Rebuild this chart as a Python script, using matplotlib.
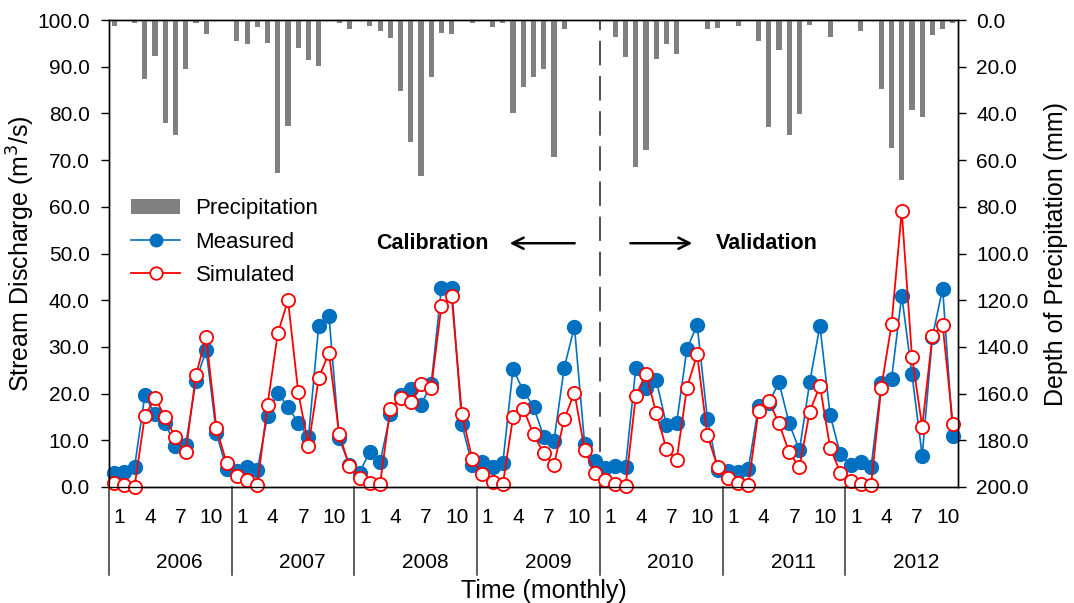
import numpy as np
import matplotlib
matplotlib.use('Agg')
import matplotlib.pyplot as plt
import matplotlib.transforms as mtransforms
from matplotlib.ticker import FormatStrFormatter
from matplotlib.lines import Line2D
from matplotlib.patches import Patch

plt.rcParams['font.family'] = ['Liberation Sans', 'DejaVu Sans']

# monthly series, Jan 2006 .. Nov 2012
years = ['2006', '2007', '2008', '2009', '2010', '2011', '2012']
month_labels = ['1', '4', '7', '10']

precip = [2.6, 0, 1.4, 25.2, 15.4, 44.2, 49.1, 20.9, 1.4, 6.0, 0, 0,
          9.1, 10.3, 2.8, 9.7, 65.5, 45.3, 12.1, 17.1, 19.7, 0, 1.4, 4.0,
          0, 2.6, 4.6, 7.8, 30.3, 52.4, 66.7, 24.2, 5.4, 6.0, 0.6, 1.4,
          0.6, 2.8, 1.4, 39.9, 28.5, 24.2, 20.9, 58.7, 4.0, 0, 0.6, 0,
          0.6, 7.1, 15.9, 63.1, 55.6, 16.7, 10.3, 14.7, 0.6, 0.6, 4.0, 3.4,
          0, 2.6, 0.6, 9.1, 46.0, 12.8, 49.1, 40.3, 2.1, 0.6, 7.1, 0,
          0, 4.6, 0, 29.6, 55.0, 68.5, 38.5, 41.7, 6.4, 4.0, 1.4]

measured = [3.1, 3.2, 4.3, 19.6, 15.6, 13.6, 8.8, 9.1, 22.7, 29.3, 11.5, 3.8,
            3.5, 4.3, 3.6, 15.3, 20.2, 17.1, 13.8, 10.6, 34.5, 36.7, 10.4, 4.7,
            3.1, 7.6, 5.3, 15.6, 19.6, 21.0, 17.6, 22.0, 42.7, 42.7, 13.4, 4.7,
            5.3, 4.3, 5.1, 25.3, 20.6, 17.2, 10.8, 9.9, 25.5, 34.3, 9.2, 5.6,
            4.0, 4.5, 4.3, 25.5, 21.3, 22.9, 13.3, 13.8, 29.6, 34.7, 14.6, 3.6,
            3.4, 3.3, 3.9, 17.3, 18.0, 22.4, 13.6, 7.9, 22.4, 34.5, 15.4, 7.0,
            4.7, 5.4, 4.2, 22.2, 23.1, 41.0, 24.1, 6.7, 32.2, 42.5, 10.9]

simulated = [0.9, 0.4, 0.1, 15.2, 19.1, 14.9, 10.6, 7.4, 24.0, 32.1, 12.6, 5.1,
             2.4, 1.5, 0.4, 17.6, 32.9, 40.0, 20.3, 8.8, 23.3, 28.8, 11.3, 4.5,
             2.0, 0.9, 0.6, 16.8, 19.1, 18.1, 22.0, 21.3, 38.8, 40.8, 15.6, 6.1,
             2.7, 1.1, 0.6, 14.9, 16.8, 11.3, 7.2, 4.7, 14.5, 20.2, 7.9, 3.1,
             1.5, 0.6, 0.2, 19.5, 24.2, 15.9, 8.1, 5.8, 21.3, 28.4, 11.1, 4.3,
             1.9, 0.8, 0.4, 16.3, 18.5, 13.6, 7.4, 4.2, 16.1, 21.7, 8.4, 3.1,
             1.3, 0.6, 0.4, 21.3, 34.8, 59.1, 27.9, 12.9, 32.4, 34.7, 13.4]

x = np.arange(len(measured))
n = len(measured)

fig = plt.figure(figsize=(10.74, 6.03), dpi=100)
ax = fig.add_axes([109 / 1074, 1 - 487 / 603, 849 / 1074, 467 / 603])
ax2 = ax.twinx()

blue = '#0070C0'
red = '#FF0000'

# precipitation bars hanging from the top (right axis, inverted)
ax2.bar(x, precip, width=0.5, color='#808080', zorder=2)
ax2.set_ylim(200, 0)
ax2.set_yticks(np.arange(0, 201, 20))
ax2.yaxis.set_major_formatter(FormatStrFormatter('%.1f'))

# discharge lines
ax.plot(x, measured, color=blue, lw=1.2, marker='o', ms=10, mfc=blue, mec=blue,
        clip_on=False, zorder=3)
ax.plot(x, simulated, color=red, lw=1.3, marker='o', ms=9.5, mfc='white', mec=red,
        mew=1.3, clip_on=False, zorder=4)

ax.set_xlim(-0.5, n - 0.5)
ax.set_ylim(0, 100)
ax.set_yticks(np.arange(0, 101, 10))
ax.yaxis.set_major_formatter(FormatStrFormatter('%.1f'))
ax.set_xticks([])

ax.tick_params(axis='y', direction='out', length=6, width=1, pad=8, labelsize=15)
ax2.tick_params(axis='y', direction='out', length=6, width=1, pad=7, labelsize=15)
for sp in ax.spines.values():
    sp.set_linewidth(1)
for sp in ax2.spines.values():
    sp.set_linewidth(1)

# calibration / validation split
ax.axvline(47.5, color='#222222', lw=1.1, ls=(0, (16, 7)), zorder=1)
ax.annotate('', xy=(38.4, 52.2), xytext=(45.3, 52.2),
            arrowprops=dict(arrowstyle='->', color='k', lw=1.8, mutation_scale=20))
ax.annotate('', xy=(56.8, 52.2), xytext=(50.2, 52.2),
            arrowprops=dict(arrowstyle='->', color='k', lw=1.8, mutation_scale=20))
ax.text(31.1, 52.2, 'Calibration', ha='center', va='center', fontsize=15.5, fontweight='bold')
ax.text(63.8, 52.2, 'Validation', ha='center', va='center', fontsize=15.5, fontweight='bold')

# two-level x axis: months and years
trans = mtransforms.blended_transform_factory(ax.transData, ax.transAxes)
for k, yr in enumerate(years):
    start = 12 * k
    for lab in month_labels:
        pos = start + int(lab) - 0.5
        if pos < n:
            ax.text(pos, -0.066, lab, transform=trans, ha='center', va='center', fontsize=15)
    ax.text(start + 6.4, -0.161, yr, transform=trans, ha='center', va='center', fontsize=15)
    ax.plot([start - 0.5, start - 0.5], [0, -0.188], transform=trans, color='#333333',
            lw=1.1, clip_on=False)

ax.set_ylabel('Stream Discharge (m$^3$/s)', fontsize=18)
ax.yaxis.set_label_coords(-0.085, 0.5)
ax2.set_ylabel('Depth of Precipitation (mm)', fontsize=18, rotation=90)
ax2.yaxis.set_label_coords(1.101, 0.5)
fig.text(544 / 1074, 1 - 591 / 603, 'Time (monthly)', ha='center', va='center', fontsize=18)

handles = [Patch(facecolor='#808080', edgecolor='none'),
           Line2D([], [], color=blue, lw=1.2, marker='o', ms=9, mfc=blue, mec=blue),
           Line2D([], [], color=red, lw=1.3, marker='o', ms=9, mfc='white', mec=red, mew=1.3)]
ax2.legend(handles, ['Precipitation', 'Measured', 'Simulated'], loc='upper left',
           bbox_to_anchor=(0.026, 0.618), frameon=False, fontsize=16, borderpad=0,
           borderaxespad=0, handlelength=2.2, handletextpad=0.7, labelspacing=0.55)

plt.savefig('out.png', dpi=100)
